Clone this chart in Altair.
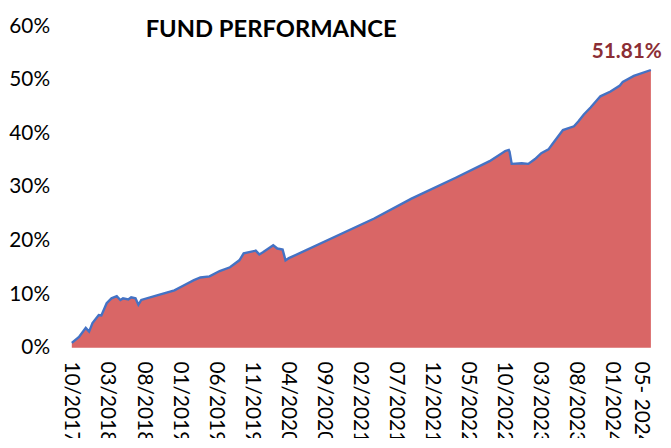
import altair as alt
import pandas as pd

dates = [
    "2017-10-03", "2017-11-03", "2017-12-01", "2017-12-15", "2017-12-29",
    "2018-01-25", "2018-02-06", "2018-02-28", "2018-03-18", "2018-04-10",
    "2018-04-25", "2018-05-06", "2018-05-28", "2018-06-10", "2018-06-28",
    "2018-07-10", "2018-07-22", "2018-10-01", "2018-12-10", "2019-01-22",
    "2019-03-01", "2019-03-28", "2019-05-06", "2019-06-18", "2019-08-01",
    "2019-09-10", "2019-09-28", "2019-11-18", "2019-12-03", "2019-12-18",
    "2020-02-01", "2020-02-18", "2020-03-10", "2020-03-22", "2020-04-06",
    "2021-04-01", "2021-09-06", "2022-03-10", "2022-08-01", "2022-10-06",
    "2022-10-21", "2022-10-24", "2022-11-03", "2022-12-15", "2023-01-12",
    "2023-02-10", "2023-03-06", "2023-04-06", "2023-04-24", "2023-06-06",
    "2023-07-22", "2023-08-10", "2023-09-03", "2023-10-01", "2023-11-12",
    "2023-12-24", "2024-02-03", "2024-02-15", "2024-04-01", "2024-06-12",
]
values = [
    0.9, 2.0, 3.7, 3.0, 4.6,
    6.1, 6.0, 8.3, 9.2, 9.6,
    8.9, 9.2, 9.0, 9.4, 9.2,
    8.0, 8.9, 9.8, 10.7, 11.7,
    12.6, 13.1, 13.3, 14.3, 15.0,
    16.3, 17.6, 18.1, 17.4, 17.8,
    19.1, 18.5, 18.3, 16.3, 16.7,
    24.1, 27.8, 31.7, 34.8, 36.7,
    36.9, 36.6, 34.3, 34.4, 34.3,
    35.2, 36.3, 37.0, 38.1, 40.6,
    41.3, 42.2, 43.5, 44.8, 46.9,
    47.8, 48.9, 49.6, 50.7, 51.81,
]
tick_labels = [
    "10/2017", "03/2018", "08/2018", "01/2019", "06/2019",
    "11/2019", "04/2020", "09/2020", "02/2021", "07/2021",
    "12/2021", "05/2022", "10/2022", "03/2023", "08/2023",
    "01/2024", "05- 2024",
]
title_text = "FUND PERFORMANCE"
end_label = "51.81%"

START = pd.Timestamp("2017-10-01")


def month_index(d):
    t = pd.Timestamp(d)
    return (t.year - START.year) * 12 + (t.month - START.month) + (t.day - 1) / 30.0


def label_index(lbl):
    mm, yy = lbl.replace(" ", "").replace("-", "/").split("/")
    return (int(yy) - START.year) * 12 + (int(mm) - START.month)


df = pd.DataFrame({"m": [month_index(d) for d in dates], "ret": [v / 100 for v in values]})
last = df.tail(1).assign(label=end_label)
ticks_df = pd.DataFrame({"m": [label_index(l) for l in tick_labels], "label": tick_labels})

font = "Lato"
W, H = 586, 325

x_scale = alt.Scale(domain=[0, 80.4], nice=False, zero=False)

y_enc = alt.Y(
    "ret:Q",
    scale=alt.Scale(domain=[0, 0.6], nice=False),
    axis=alt.Axis(
        values=[0, 0.1, 0.2, 0.3, 0.4, 0.5, 0.6],
        format=".0%",
        labelFontSize=21,
        labelFont=font,
        labelColor="#000000",
        labelPadding=22,
        ticks=False,
        domain=False,
        grid=False,
        title=None,
    ),
)

area = alt.Chart(df).mark_area(
    color="#D96666", opacity=1, line=alt.OverlayMarkDef(color="#4472C4", strokeWidth=2.4), interpolate="linear"
).encode(x=alt.X("m:Q", scale=x_scale, axis=None), y=y_enc)

xlabels = alt.Chart(ticks_df).mark_text(
    angle=90, align="left", baseline="middle", font=font, fontSize=21, color="#000000"
).encode(x=alt.X("m:Q", scale=x_scale, axis=None), y=alt.value(H + 14), text="label:N")

label = alt.Chart(last).mark_text(
    align="right", baseline="bottom", dx=11, dy=-8, font=font, fontSize=21, fontWeight="bold", color="#8B2E35"
).encode(x=alt.X("m:Q", scale=x_scale, axis=None), y="ret:Q", text="label:N")

title = alt.Chart(pd.DataFrame({"t": [title_text]})).mark_text(
    align="center", baseline="middle", font=font, fontSize=24, fontWeight="bold", color="#000000"
).encode(x=alt.value(202), y=alt.value(4), text="t:N")

chart = (
    (area + xlabels + label + title)
    .properties(
        width=W,
        height=H,
        autosize=alt.AutoSizeParams(type="none"),
        padding={"left": 64, "top": 16, "right": 12, "bottom": 89},
    )
    .configure_view(stroke=None)
)

chart.save("out.html", embed_options={"renderer": "svg", "actions": False})
